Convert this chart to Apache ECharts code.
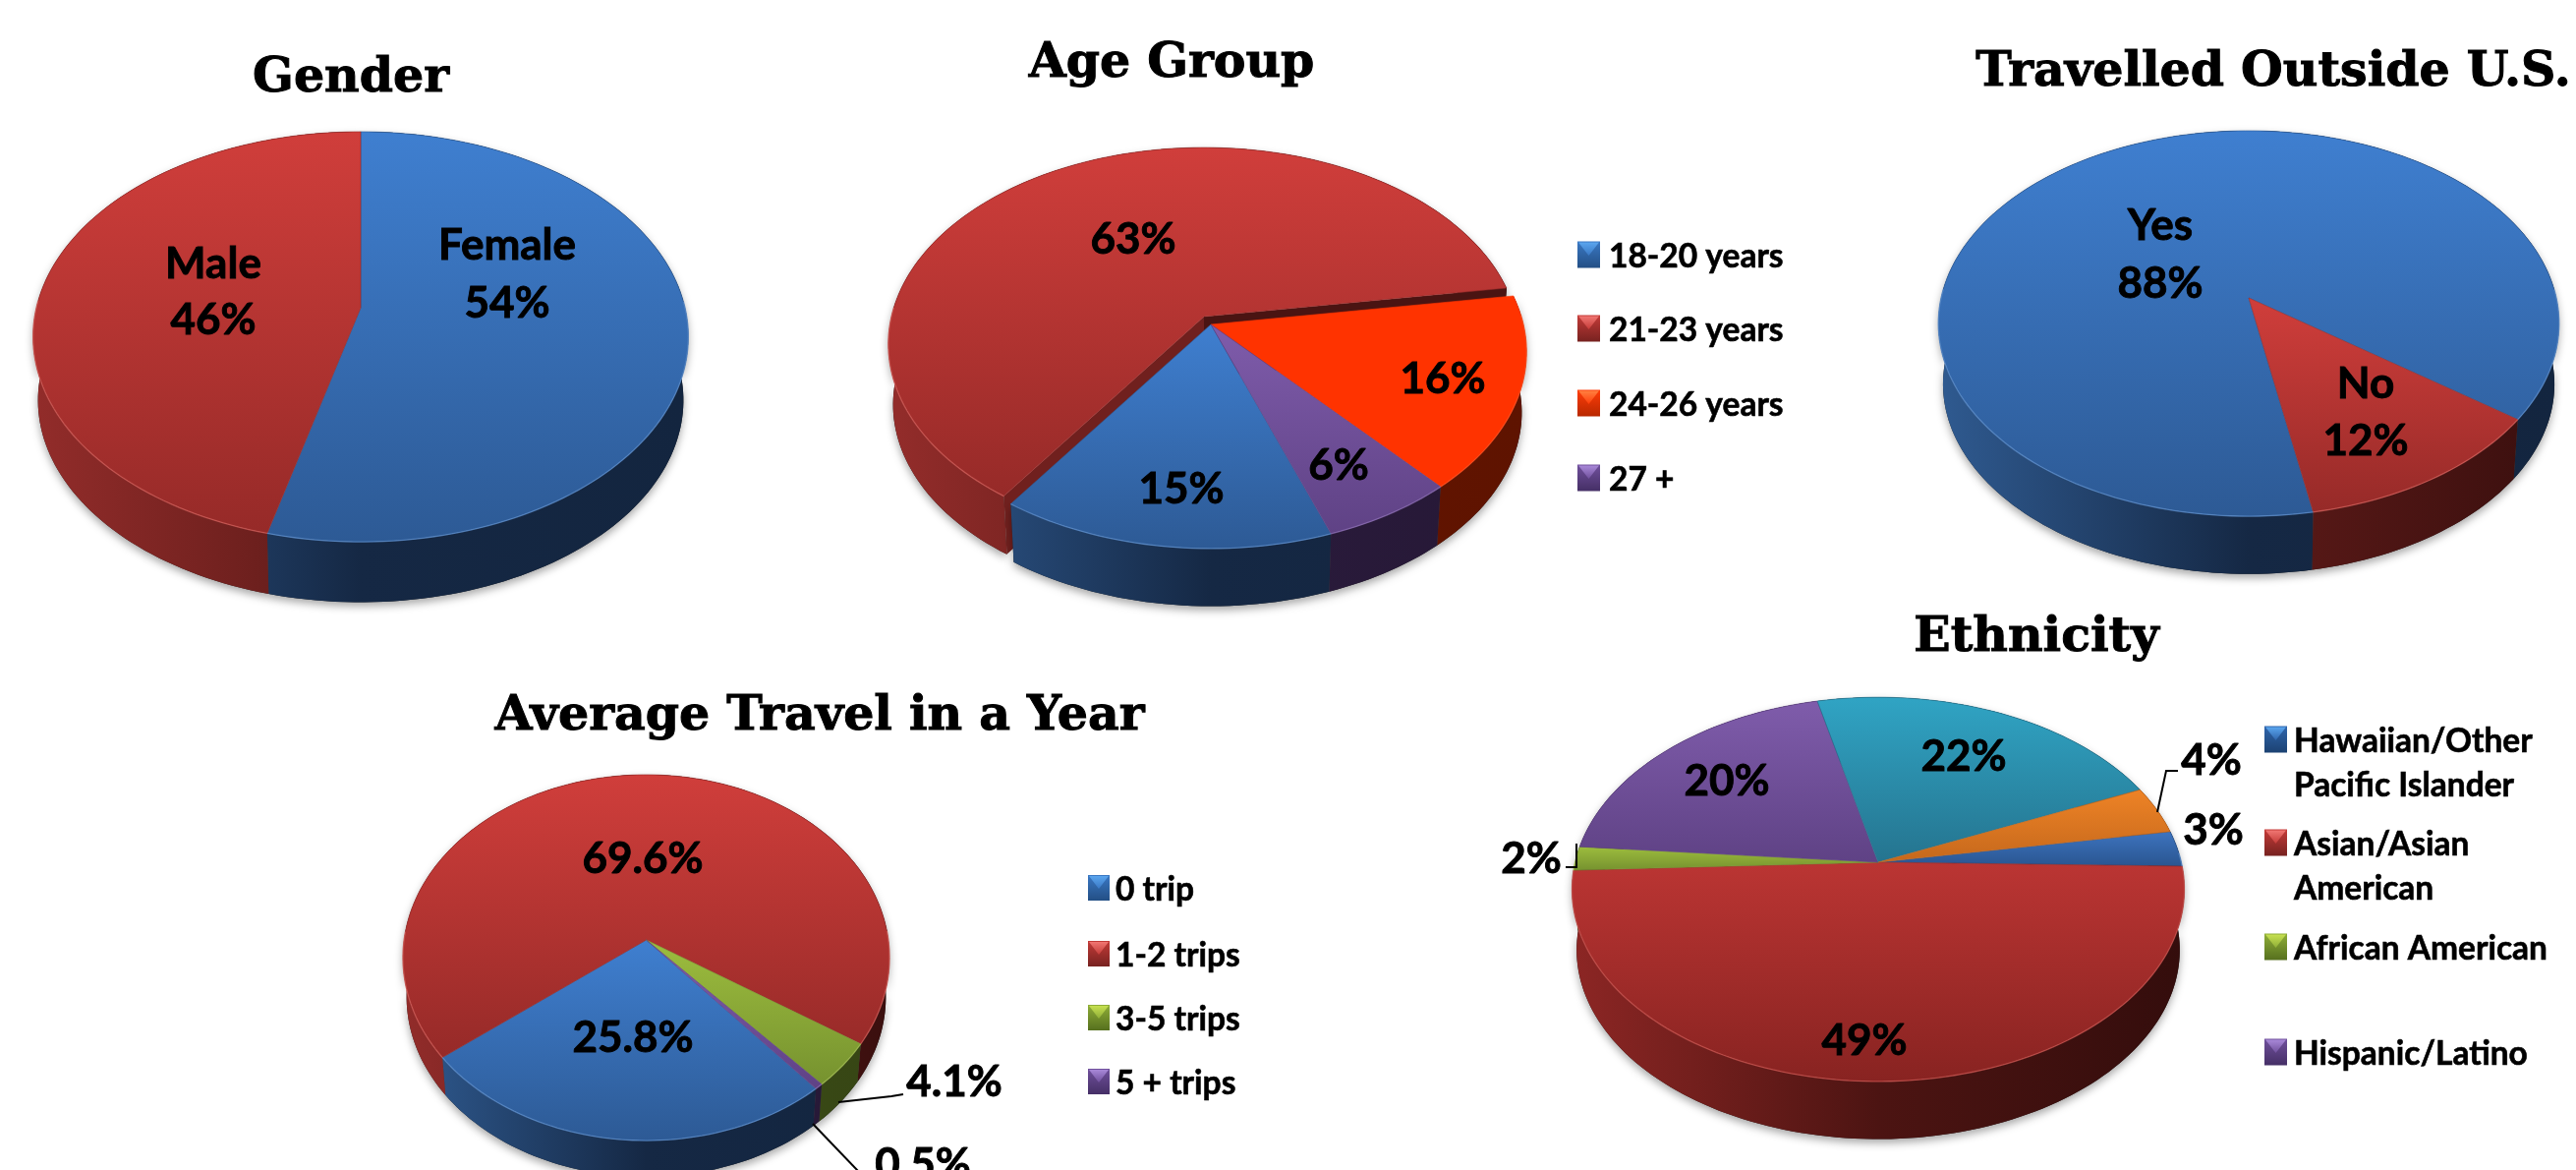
<!DOCTYPE html>
<html><head><meta charset="utf-8">
<style>html,body{margin:0;padding:0;background:#fff}#c{width:2621px;height:1190px}</style>
<script src="https://cdn.jsdelivr.net/npm/echarts@6/dist/echarts.min.js"></script>
</head><body><div id="c"></div>
<script>
// ---- data ----
const genderNames = ['Female', 'Male'];
const genderValues = [54, 46];
const ageNames = ['18-20 years', '21-23 years', '24-26 years', '27 +'];
const ageValues = [15, 63, 16, 6];
const outsideNames = ['Yes', 'No'];
const outsideValues = [88, 12];
const travelNames = ['0 trip', '1-2 trips', '3-5 trips', '5 + trips'];
const travelValues = [25.8, 69.6, 4.1, 0.5];
const ethnicNames = ['Hawaiian/Other\nPacific Islander', 'Asian/Asian\nAmerican', 'African American', 'Hispanic/Latino', 'Other', 'Mixed'];
const ethnicValues = [3, 49, 2, 20, 22, 4];
const ethnicLabels = ['3%', '49%', '2%', '20%', '22%', '4%'];
const titles = ['Gender', 'Age Group', 'Travelled Outside U.S.', 'Average Travel in a Year', 'Ethnicity'];

// ---- colours ----
const C = {
  blue:   {top:['#3f7fd0','#2d5a95'], rim:'#6ea0e0', side:['#2f5a90','#152844','#13253f'], key:['#5aa5ee','#3a78c4','#234f85']},
  red:    {top:['#d03e3b','#962a28'], rim:'#e8706a', side:['#922c2a','#5c1a18','#3a0f0e'], key:['#f07672','#c43b38','#772220']},
  orange: {top:['#ff3300','#ff3300'], rim:'#ff5a2a', side:['#6a1800','#661500','#5e1300'], key:['#ff8040','#ff3c08','#b82800']},
  purple: {top:['#7f5cab','#5f4285'], rim:'#9a7cc4', side:['#2e1f42','#2a1b3c','#261836'], key:['#a888d8','#70509c','#452f66']},
  green:  {top:['#9dbd3e','#76922f'], rim:'#b6d060', side:['#485c1c','#3e4f18','#364514'], key:['#c6e050','#8fae38','#56701e']},
  teal:   {top:['#30a4c4','#25748f'], rim:'#55bcd8', side:['#1a5568','#134050','#103644'], key:['#60c8e4','#2d9dbc','#1c6377']},
  amber:  {top:['#ee8326','#c5681c'], rim:'#f6a050', side:['#7c4310','#6c3a0e','#5e320c'], key:['#f8a860','#e67e22','#96520f']},
  ered:   {top:['#bb3533','#882321'], rim:'#e0645e', side:['#8c2624','#4c1412','#340d0c'], key:['#f07672','#c43b38','#772220']},
  eblue:  {top:['#3d74bf','#2a5590'], rim:'#6ea0e0', side:['#2f5a90','#152844','#13253f'], key:['#5aa5ee','#2f65ac','#1c4272']}
};
const LABEL = {fontFamily:'Lato', fontWeight:700, fill:'#000', stroke:'#000', lineWidth:.9};
const LAB_SIZE = 44, LEG_SIZE = 33.5;

// ---- one layout per pie: perspective disc, labels, legend, leader lines ----
const pies = [
 {name:titles[0], names:genderNames, values:genderValues, cx:367, cy:313, a:330, b:204.4, k:.1416, d:65, first:0,
  colors:['blue','red'],
  labels:[[[genderNames[0],516,250],['54%',516,309]], [[genderNames[1],217,269],['46%',217,326]]]},
 {name:titles[1], names:ageNames, values:ageValues, cx:1232, cy:330, a:318, b:196, k:.14, d:62, first:160.5,
  colors:['blue','red','orange','purple'], explode:{1:[-7,-8]},
  labels:[[['15%',1202,498]], [['63%',1153,244]], [['16%',1468,386]], [['6%',1362,474]]],
  legend:{x:1605, w:23, tx:1637, ys:[259,334,410,486]}},
 {name:titles[2], names:outsideNames, values:outsideValues, cx:2288, cy:303, a:313, b:192.6, k:.1327, d:62, first:169.5,
  colors:['blue','red'],
  labels:[[[outsideNames[0],2198,230],['88%',2198,289]], [[outsideNames[1],2407,391],['12%',2407,449]]]},
 {name:titles[3], names:travelNames, values:travelValues, cx:657.5, cy:956, a:246.4, b:184.3, k:.0967, d:40, first:139.5,
  colors:['blue','red','green','purple'],
  labels:[[['25.8%',644,1056]], [['69.6%',654,874]], [['4.1%',971,1101]], [['0.5%',939,1185]]],
  legend:{x:1107, w:22, tx:1135, ys:[903,970,1035,1100]},
  leaders:[[[853,1121],[907,1115],[919,1113]], [[827,1143],[874,1192]]]},
 {name:titles[4], names:ethnicNames, values:ethnicValues, cx:1911, cy:877, a:308.4, b:191.5, k:.141, d:62, first:80.4,
  colors:['eblue','ered','green','purple','teal','amber'],
  labels:[[[ethnicLabels[0],2252,845]], [[ethnicLabels[1],1897,1059]], [[ethnicLabels[2],1558,874]], [[ethnicLabels[3],1757,795]], [[ethnicLabels[4],1998,770]], [[ethnicLabels[5],2250,774]]],
  legend:{x:2304, w:23, tx:2334, ys:[752,857,963,1070], count:4},
  leaders:[[[2195,826],[2204,784],[2216,784]], [[1604,858],[1604,882],[1593,882]]]}
];
const titlePos = [[352,75],[1187,60],[2308,69],[829,724],[2067,644]];

// ---- drawing ----
const RAD = Math.PI/180;
function project(p, deg){ // angle clockwise from the back of the disc -> screen
  const px = Math.sin(deg*RAD), py = -Math.cos(deg*RAD), w = 1 - p.k*py;
  return [p.cx + p.a*px/w, p.cy + p.b*py/w];
}
function lower(p, pt){ // same rim on the underside of the pie
  const s = .985;
  return [p.cx + (pt[0]-p.cx)*s, p.cy + (pt[1]-p.cy)*s + p.d];
}
function grad(stops, x2, y2, g){
  return {type:'linear', x:g?g[0]:0, y:g?g[1]:0, x2:g?g[2]:x2, y2:g?g[3]:y2, global:!!g,
    colorStops:stops.map((c,i)=>({offset:i/(stops.length-1), color:c}))};
}
function renderSlice(p, idx, api){
  const val = api.value(0);
  let start = p.first;
  for(let i=0;i<idx;i++) start += p.values[i]*3.6;
  const end = start + val*3.6;
  const off = (p.explode && p.explode[idx]) || [0,0];
  const base = p.explode ? (p.explode[idx] ? 0 : 10) : 0;
  const col = C[p.colors[idx]];
  const arc = [];
  const n = Math.max(2, Math.ceil((end-start)/1.5));
  for(let i=0;i<=n;i++) arc.push(project(p, start+(end-start)*i/n));
  const shift = q => [q[0]+off[0], q[1]+off[1]];
  const topArc = arc.map(shift);
  const lowArc = arc.map(q=>shift(lower(p,q)));
  const apex = shift([p.cx,p.cy]);
  const apexLow = shift(lower(p,[p.cx,p.cy]));
  const sidePts = topArc.concat(lowArc.slice().reverse());
  const kids = [];
  const sideFill = grad(col.side,0,0,[p.cx-p.a, 0, p.cx+p.a, 0]);
  kids.push({type:'polygon', shape:{points:sidePts}, z2:base,
    style:{fill:'#222', shadowBlur:9, shadowColor:'rgba(0,0,0,.35)', shadowOffsetY:4}});
  kids.push({type:'polygon', shape:{points:sidePts}, z2:base+1, style:{fill:sideFill}});
  if(off[0]||off[1]){ // cut faces of a pulled-out slice
    [[topArc[0],lowArc[0],'#70201e'],[topArc[n],lowArc[n],'#4a1412']].forEach(f=>{
      kids.push({type:'polygon', shape:{points:[apex,f[0],f[1],apexLow]}, z2:base+2, style:{fill:f[2]}});
    });
  }
  kids.push({type:'polygon', shape:{points:[apex].concat(topArc)}, z2:base+3,
    style:{fill:grad(col.top,0,1), stroke:col.top[1], lineWidth:.6}});
  // pale edge along the front of the rim (one run per unbroken stretch)
  let run = [];
  const flush = () => {
    if(run.length>1) kids.push({type:'polyline', shape:{points:run}, z2:base+4,
      style:{fill:null, stroke:col.rim, lineWidth:1.3, opacity:.55}});
    run = [];
  };
  for(let i=0;i<=n;i++){
    const a = start+(end-start)*i/n;
    if(Math.cos(a*RAD)<.05) run.push(topArc[i]); else flush();
  }
  flush();
  // labels
  (p.labels[idx]||[]).forEach(t=>{
    kids.push({type:'text', z2:40, style:Object.assign({text:t[0], x:t[1], y:t[2], fontSize:LAB_SIZE,
      align:'center', verticalAlign:'middle'}, LABEL)});
  });
  // legend entry
  const L = p.legend;
  if(L && idx < (L.count||p.names.length)){
    const y = L.ys[idx], h = L.w*.5+2, x=L.x, w=L.w;
    kids.push({type:'rect', shape:{x:x, y:y-h, width:w, height:2*h}, z2:30,
      style:{fill:grad([col.key[1],col.key[2]],0,1)}});
    kids.push({type:'polygon', shape:{points:[[x+1,y-h+1],[x+w-1,y-h+1],[x+w/2,y+1]]}, z2:31,
      style:{fill:grad([col.key[0],col.key[1]],0,1)}});
    const lines = p.names[idx].split('\n');
    lines.forEach((s,i)=>kids.push({type:'text', z2:40, style:Object.assign({text:s, x:L.tx, y:y+2+i*45,
      fontSize:LEG_SIZE, align:'left', verticalAlign:'middle'}, LABEL, {lineWidth:.6})}));
  }
  if(idx===0) (p.leaders||[]).forEach(pts=>kids.push({type:'polyline', shape:{points:pts}, z2:35,
    style:{fill:null, stroke:'#000', lineWidth:2}}));
  return {type:'group', children:kids};
}

const chart = echarts.init(document.getElementById('c'), null, {renderer:'canvas', width:2621, height:1190});
chart.setOption({
  backgroundColor:'#fff',
  animation:false,
  title:titles.map((t,i)=>({text:t, left:titlePos[i][0], top:titlePos[i][1], textAlign:'center', textVerticalAlign:'middle',
    textStyle:{fontFamily:'DejaVu Serif', fontWeight:'bold', fontSize:49, color:'#000', textBorderColor:'#000', textBorderWidth:1}})),
  series:pies.map(p=>({
    type:'custom', name:p.name, coordinateSystem:'none', silent:true, clip:false,
    data:p.values.map((v,i)=>({value:[v], name:p.names[i]})),
    renderItem:(params,api)=>renderSlice(p, params.dataIndex, api)
  }))
});
</script></body></html>
